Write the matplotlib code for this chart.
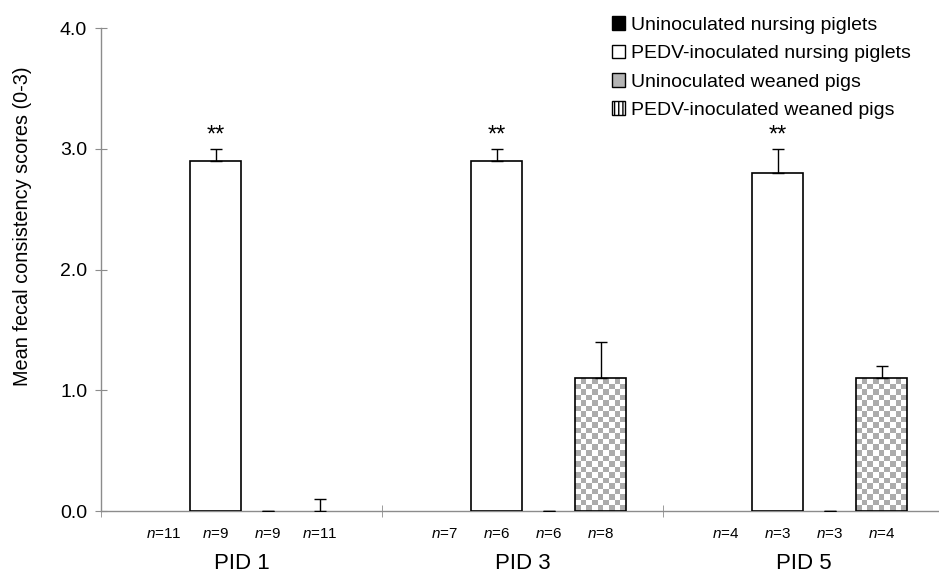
import numpy as np
import matplotlib
matplotlib.use('Agg')
import matplotlib.pyplot as plt
from matplotlib.patches import Patch
from matplotlib.transforms import blended_transform_factory

plt.rcParams['font.family'] = ['Liberation Sans', 'DejaVu Sans']
plt.rcParams['mathtext.fontset'] = 'custom'
plt.rcParams['mathtext.it'] = 'Liberation Sans:italic'
plt.rcParams['mathtext.rm'] = 'Liberation Sans'

# data
days = ['PID 1', 'PID 3', 'PID 5']
groups = ['Uninoculated nursing piglets', 'PEDV-inoculated nursing piglets',
          'Uninoculated weaned pigs', 'PEDV-inoculated weaned pigs']
means = [[0.0, 0.0, 0.0],
         [2.9, 2.9, 2.8],
         [0.0, 0.0, 0.0],
         [0.0, 1.1, 1.1]]
errs = [[None, None, None],
        [0.1, 0.1, 0.2],
        [0.0, 0.0, 0.0],
        [0.1, 0.3, 0.1]]
n_sizes = [[11, 7, 4],
           [9, 6, 3],
           [9, 6, 3],
           [11, 8, 4]]
signif = ['**', '**', '**']

face = ['black', 'white', '#b4b4b4', 'white']
gray = '#8c8c8c'
W = 0.18
step = 0.185

fig = plt.figure(figsize=(9.39, 5.75), dpi=100)
ax = fig.add_axes([0.1076, 0.1113, 1.0 - 0.1076, 0.840])
x = np.arange(len(days))

ax.set_xlim(-0.5, 2.482)
ax.set_ylim(0, 4.0)

cmap = matplotlib.colors.ListedColormap(['white', '#acacac'])

for g in range(4):
    pos = x + (g - 1.5) * step
    for i in range(len(days)):
        v = means[g][i]
        lw = 1.2 if v > 0 else 0
        b = ax.bar(pos[i], v, W, color=face[g], edgecolor='black', linewidth=lw, zorder=3)[0]
        if g == 3 and v > 0:
            # checkerboard fill clipped to the bar
            x0, y0 = b.get_x(), b.get_y()
            w, h = b.get_width(), b.get_height()
            px_w = ax.transData.transform((x0 + w, 0))[0] - ax.transData.transform((x0, 0))[0]
            px_h = ax.transData.transform((0, h))[1] - ax.transData.transform((0, 0))[1]
            ncol = 9
            nrow = int(round(px_h / (px_w / ncol)))
            img = np.indices((nrow, ncol)).sum(axis=0) % 2
            im = ax.imshow(img, cmap=cmap, extent=(x0, x0 + w, y0, y0 + h),
                           aspect='auto', interpolation='nearest', zorder=2.5)
            im.set_clip_path(b)
            b.set_facecolor('none')
        e = errs[g][i]
        if e is not None:
            ax.errorbar(pos[i], v, yerr=[[0], [e]], fmt='none', ecolor='black',
                        elinewidth=1.0, capsize=4, capthick=1.0, zorder=4)

# significance marks
for i in range(len(days)):
    xb = x[i] + (1 - 1.5) * step
    top = means[1][i] + errs[1][i]
    ax.text(xb, top + 0.015, signif[i], ha='center', va='bottom', fontsize=17)

# n labels
trans = blended_transform_factory(ax.transData, ax.transAxes)
for g in range(4):
    for i in range(len(days)):
        ax.text(x[i] + (g - 1.5) * step, -0.047, '$n$=%d' % n_sizes[g][i], transform=trans,
                ha='center', va='center', fontsize=11)

ax.set_xticks(x)
ax.set_xticklabels(days, fontsize=16)
ax.tick_params(axis='x', which='major', length=0, pad=30)
ax.set_xticks([-0.5, 0.5, 1.5], minor=True)
ax.tick_params(axis='x', which='minor', length=8, direction='inout', color=gray)

ax.set_yticks([0, 1, 2, 3, 4])
ax.set_yticklabels(['0.0', '1.0', '2.0', '3.0', '4.0'], fontsize=14)
ax.tick_params(axis='y', length=8, direction='inout', color=gray, pad=6)
ax.set_ylabel('Mean fecal consistency scores (0-3)', fontsize=14.3)
ax.yaxis.set_label_coords(-0.082, 0.59)

for s in ['top', 'right']:
    ax.spines[s].set_visible(False)
for s in ['left', 'bottom']:
    ax.spines[s].set_color(gray)
    ax.spines[s].set_linewidth(1.0)

handles = [Patch(facecolor='black', edgecolor='black'),
           Patch(facecolor='white', edgecolor='black'),
           Patch(facecolor='#b4b4b4', edgecolor='black'),
           Patch(facecolor='white', edgecolor='black', hatch='||||')]
leg = ax.legend(handles, groups, loc='upper left', bbox_to_anchor=(0.600, 1.04),
                frameon=False, fontsize=14, handlelength=0.7, handleheight=0.7,
                handletextpad=0.3, labelspacing=0.55, borderaxespad=0)

fig.savefig('out.png', dpi=100)
